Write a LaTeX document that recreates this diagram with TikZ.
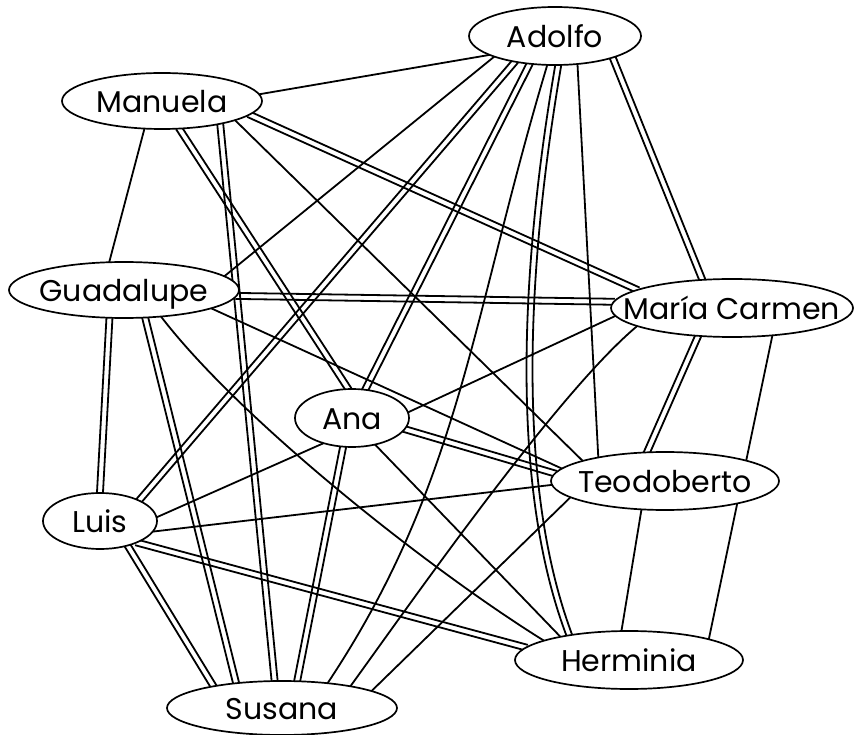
\documentclass[tikz,border=0pt]{standalone}
\usepackage{fontspec}
\setmainfont{Poppins}
\usetikzlibrary{calc,backgrounds,shapes.geometric}
\tikzset{
  nd/.style={ellipse, draw, line width=1.7pt, fill=white, inner sep=0pt,
    text height=23pt, text depth=0pt, font=\fontsize{30}{32}\selectfont},
  edge/.style={line width=1.8pt, shorten <=-2pt, shorten >=-2pt},
}
\newcommand\dbledge[2]{%
  \draw[edge] ($(#1)!3pt!90:(#2)$) -- ($(#2)!3pt!-90:(#1)$);
  \draw[edge] ($(#1)!3pt!-90:(#2)$) -- ($(#2)!3pt!90:(#1)$);}
\begin{document}
\begin{tikzpicture}[x=1pt,y=-1pt]
\useasboundingbox (0,0) rectangle (855,735);
\node[nd, minimum width=172pt, minimum height=58pt] (A) at (555,36) {\makebox[0pt]{Adolfo}};
\node[nd, minimum width=200pt, minimum height=56pt] (M) at (162,101) {\makebox[0pt]{Manuela}};
\node[nd, minimum width=230pt, minimum height=56pt] (G) at (124,290) {\makebox[0pt]{Guadalupe}};
\node[nd, minimum width=242pt, minimum height=58pt] (MC) at (732,308) {\makebox[0pt]{María Carmen}};
\node[nd, minimum width=114pt, minimum height=58pt] (An) at (352,418) {\makebox[0pt]{Ana}};
\node[nd, minimum width=228pt, minimum height=58pt] (T) at (665,481) {\makebox[0pt]{Teodoberto}};
\node[nd, minimum width=114pt, minimum height=56pt] (L) at (100,521) {\makebox[0pt]{Luis}};
\node[nd, minimum width=228pt, minimum height=58pt] (H) at (629,660) {\makebox[0pt]{Herminia}};
\node[nd, minimum width=230pt, minimum height=54pt] (S) at (282,708) {\makebox[0pt]{Susana}};
\begin{pgfonlayer}{background}
% single edges
\draw[edge] (A.196) -- (M.4);
\draw[edge] (A.199) -- (G.8);
\draw[edge] (A.308) -- (T.160);
\draw[edge] (M.238) -- (G.117);
\draw[edge] (M.345) -- (T.166);
\draw[edge] (G.348) -- (T.173);
\draw[edge] (MC.184) -- (An.6);
\draw[edge] (MC.325) -- (H.15);
\draw[edge] (An.311) -- (H.161);
\draw[edge] (L.4) -- (An.221);
\draw[edge] (L.349) -- (T.182);
\draw[edge] (T.190) -- (S.11);
\draw[edge] (T.231) -- (H.104);
% curved single edges
\draw[edge] (A.255) .. controls (472,315) and (461,483) .. (S.29);
\draw[edge] (G.324) .. controls (240,420) and (430,570) .. (H.167);
\draw[edge] (MC.191) .. controls (560,390) and (420,590) .. (S.18);
% curved double edge
\foreach \s in {-3,3}
  \draw[edge, transform canvas={xshift=\s pt}] (A.276) .. controls (524,265) and (512,484) .. (H.157);
% double edges
\dbledge{A.213}{L.28}
\dbledge{A.228}{An.65}
\dbledge{A.339}{MC.136}
\dbledge{M.302}{An.98}
\dbledge{M.338}{S.105}
\dbledge{M.351}{MC.169}
\dbledge{G.357}{MC.177}
\dbledge{G.243}{L.90}
\dbledge{G.307}{S.151}
\dbledge{MC.220}{T.121}
\dbledge{An.348}{T.176}
\dbledge{An.253}{S.61}
\dbledge{L.318}{S.162}
\dbledge{L.330}{H.173}
\end{pgfonlayer}
\end{tikzpicture}
\end{document}
